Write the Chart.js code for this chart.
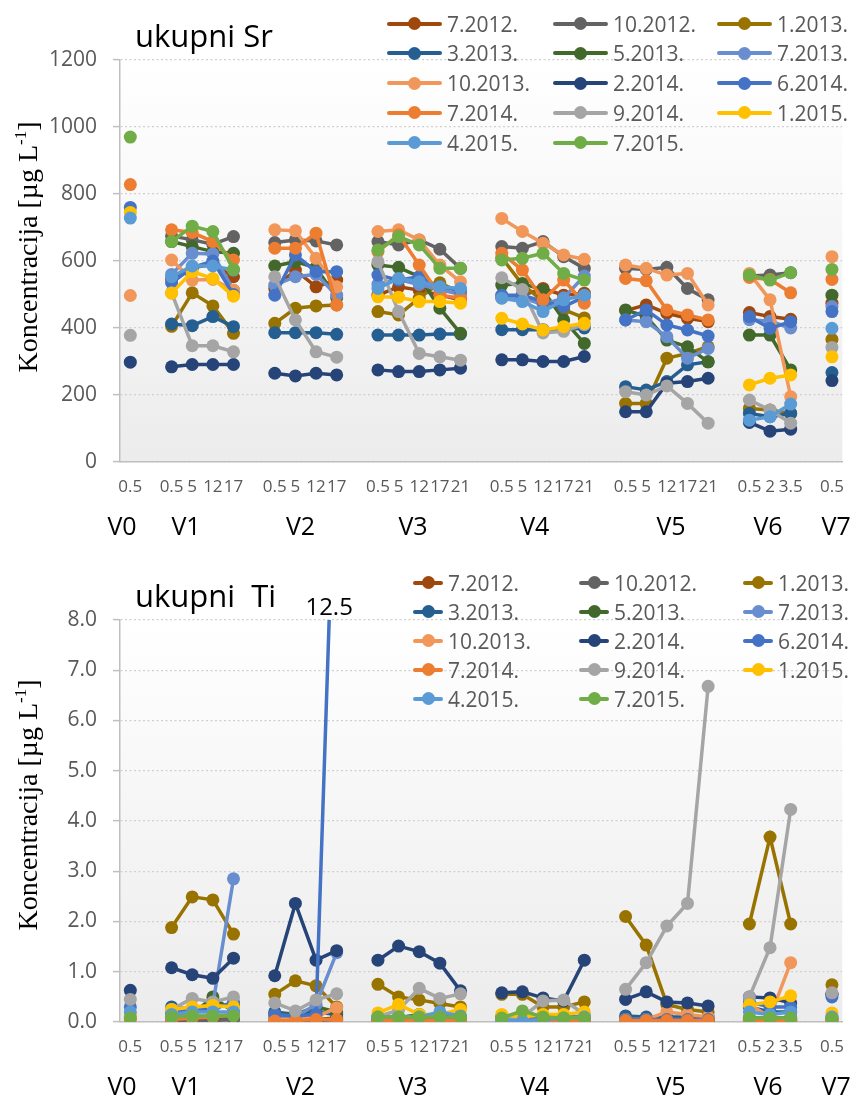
<!DOCTYPE html>
<html><head><meta charset="utf-8">
<script src="https://cdn.jsdelivr.net/npm/chart.js@4.4.1/dist/chart.umd.min.js"></script>
<style>
html,body{margin:0;padding:0;background:#fff;}
body{width:859px;height:1099px;overflow:hidden;position:relative;font-family:"Open Sans",sans-serif;}
.wrap{position:absolute;left:0;width:859px;}
#w1{top:0;height:540px}
#w2{top:540px;height:559px}
canvas{display:block;position:absolute;left:0;top:0}
.item{position:absolute;height:30px;display:flex;align-items:center;font-size:21px;color:#595959;white-space:nowrap;}
.sw{position:relative;height:4px;margin-right:5px;border-radius:2px}
.sw i{position:absolute;top:-4.5px;width:13px;height:13px;border-radius:50%}
</style>
</head><body>
<div class="wrap" id="w1"><canvas id="c1" width="859" height="540"></canvas></div>
<div class="wrap" id="w2"><canvas id="c2" width="859" height="559"></canvas></div>
<script>
// ---------- categories ----------
const GROUP_NAMES = ['V0','V1','V2','V3','V4','V5','V6','V7'];
const GROUP_TICKS = [
  ['0.5'],
  ['0.5','5','12','17'],
  ['0.5','5','12','17'],
  ['0.5','5','12','17','21'],
  ['0.5','5','12','17','21'],
  ['0.5','5','12','17','21'],
  ['0.5','2','3.5'],
  ['0.5']
];
const SERIES_NAMES = ['7.2012.','10.2012.','1.2013.','3.2013.','5.2013.','7.2013.','10.2013.','2.2014.','6.2014.','7.2014.','9.2014.','1.2015.','4.2015.','7.2015.'];
const SERIES_COLORS = ['#9E480E','#636363','#997300','#255E91','#43682B','#698ED0','#F1975A','#264478','#4472C4','#ED7D31','#A5A5A5','#FFC000','#5B9BD5','#70AD47'];
const SR_TICKS = [0,200,400,600,800,1000,1200];
const TI_TICKS = [0,1,2,3,4,5,6,7,8];

// ---------- ukupni Sr (µg/L) : V0 | V1 | V2 | V3 | V4 | V5 | V6 | V7 ----------
const SR_2012_07 = [null, 545,580,590,553, 518,573,523,543, 498,523,513,498,484, 490,498,518,498,504, 452,469,444,429,419, 446,434,426, 474];
const SR_2012_10 = [null, 675,663,650,673, 655,663,660,648, 658,648,663,635,578, 643,638,658,613,578, 578,575,581,518,484, 555,558,565, null];
const SR_2013_01 = [null, 405,505,466,384, 414,459,466,469, 449,439,489,535,505, 610,530,480,455,430, 175,175,310,324,344, 160,155,145, 366];
const SR_2013_03 = [null, 412,407,434,404, 386,386,386,381, 379,379,379,382,382, 395,395,395,395,400, 225,215,240,290,299, 145,135,145, 267];
const SR_2013_05 = [null, 658,643,628,623, 585,598,580,490, 588,581,553,459,384, 528,533,513,424,354, 454,434,364,344,299, 379,379,275, 498];
const SR_2013_07 = [null, 560,623,621,513, 528,553,560,498, 530,545,530,515,500, 495,490,470,490,555, 424,419,374,310,339, 425,420,400, 464];
const SR_2013_10 = [497, 603,543,545,513, 693,690,608,523, 688,693,663,588,538, 727,688,653,618,605, 588,578,558,563,469, 563,484,195, 613];
const SR_2014_02 = [298, 284,291,291,291, 265,257,265,260, 275,270,270,275,280, 305,305,300,300,315, 150,150,235,240,250, 118,92,98, 243];
const SR_2014_06 = [760, 535,580,600,500, 498,618,568,568, 558,543,553,523,513, 498,498,479,464,493, 424,454,409,394,376, 434,399,419, 449];
const SR_2014_07 = [828, 693,685,658,603, 638,638,683,469, 628,678,588,498,489, 623,573,484,543,474, 548,541,454,439,424, 551,545,505, 545];
const SR_2014_09 = [378, 505,347,347,329, 553,424,329,313, 598,449,324,314,304, 550,515,385,390,410, 210,200,227,175,116, 185,155,116, 342];
const SR_2015_01 = [745, 504,568,548,495, null,null,null,null, 493,492,479,479,474, 429,412,394,404,414, null,null,null,null,null, 230,250,260, 314];
const SR_2015_04 = [728, 553,585,585,573, null,null,null,null, 518,548,538,523,518, 489,479,449,484,498, null,null,null,null,null, 125,135,173, 399];
const SR_2015_07 = [970, 658,704,688,575, null,null,null,null, 633,673,648,578,578, 603,608,623,563,543, null,null,null,null,null, 558,543,565, 575];

// ---------- ukupni Ti (µg/L) ----------
const TI_2012_07 = [null, 0.05,0.05,0.05,0.08, 0.05,0.05,0.05,0.08, 0.05,0.05,0.05,0.05,0.05, 0.05,0.05,0.05,0.05,0.05, 0.05,0.05,0.05,0.05,0.05, 0.05,0.05,0.05, 0.05];
const TI_2012_10 = [null, 0.02,0.02,0.03,0.05, 0.03,0.03,0.03,0.05, 0.03,0.03,0.03,0.03,0.03, 0.03,0.03,0.03,0.03,0.03, 0.03,0.03,0.03,0.03,0.03, 0.03,0.03,0.03, null];
const TI_2013_01 = [null, 1.88,2.49,2.43,1.75, 0.55,0.82,0.72,0.30, 0.75,0.50,0.44,0.37,0.30, 0.55,0.55,0.30,0.30,0.40, 2.10,1.53,0.35,0.25,0.20, 1.95,3.68,1.95, 0.74];
const TI_2013_03 = [null, 0.30,0.25,0.30,0.35, 0.20,0.15,0.20,0.15, 0.10,0.10,0.12,0.15,0.10, 0.10,0.10,0.10,0.10,0.10, 0.12,0.10,0.10,0.10,0.10, 0.30,0.20,0.20, 0.55];
const TI_2013_05 = [null, 0.15,0.15,0.50,0.20, 0.15,0.15,0.30,0.20, 0.08,0.08,0.15,0.10,0.08, 0.08,0.08,0.08,0.08,0.08, 0.05,0.05,0.05,0.05,0.05, 0.08,0.08,0.08, 0.08];
const TI_2013_07 = [null, 0.20,0.25,0.35,2.85, 0.10,0.10,0.35,1.38, 0.05,0.05,0.05,0.05,0.05, 0.05,0.05,0.05,0.05,0.05, 0.05,0.05,0.05,0.05,0.05, 0.05,0.05,0.05, 0.05];
const TI_2013_10 = [0.10, 0.12,0.12,0.12,0.15, 0.05,0.05,0.10,0.28, 0.05,0.05,0.05,0.05,0.05, 0.05,0.05,0.05,0.05,0.05, 0.05,0.05,0.20,0.15,0.10, 0.35,0.10,1.18, 0.10];
const TI_2014_02 = [0.63, 1.08,0.94,0.87,1.27, 0.92,2.36,1.23,1.42, 1.23,1.51,1.40,1.17,0.62, 0.58,0.60,0.48,0.42,1.23, 0.45,0.60,0.40,0.38,0.32, 0.50,0.48,0.38, 0.55];
const TI_2014_06 = [0.30, 0.20,0.22,0.25,0.40, 0.15,0.12,0.15,12.5, 0.05,0.05,0.05,0.05,0.05, 0.05,0.05,0.05,0.05,0.05, 0.05,0.05,0.05,0.05,0.05, 0.40,0.30,0.30, 0.50];
const TI_2014_07 = [0.05, 0.05,0.08,0.10,0.15, 0.02,0.03,0.05,0.05, 0.03,0.03,0.03,0.03,0.03, 0.03,0.03,0.03,0.03,0.03, 0.03,0.03,0.03,0.03,0.03, 0.03,0.03,0.03, 0.03];
const TI_2014_09 = [0.45, 0.25,0.47,0.40,0.50, 0.38,0.22,0.44,0.56, 0.10,0.24,0.67,0.47,0.56, 0.05,0.10,0.42,0.44,0.15, 0.65,1.18,1.91,2.36,6.68, 0.50,1.48,4.23, 0.58];
const TI_2015_01 = [0.15, 0.25,0.30,0.33,0.30, null,null,null,null, 0.18,0.35,0.15,0.15,0.25, 0.15,0.10,0.15,0.15,0.20, null,null,null,null,null, 0.34,0.40,0.52, 0.18];
const TI_2015_04 = [0.20, 0.15,0.20,0.20,0.20, null,null,null,null, 0.10,0.10,0.10,0.20,0.12, 0.05,0.02,0.05,0.08,0.10, null,null,null,null,null, 0.20,0.15,0.20, 0.10];
const TI_2015_07 = [0.08, 0.10,0.12,0.12,0.12, null,null,null,null, 0.10,0.10,0.10,0.10,0.10, 0.08,0.22,0.10,0.08,0.08, null,null,null,null,null, 0.08,0.08,0.08, 0.07];

const SR_SERIES = [SR_2012_07,SR_2012_10,SR_2013_01,SR_2013_03,SR_2013_05,SR_2013_07,SR_2013_10,SR_2014_02,SR_2014_06,SR_2014_07,SR_2014_09,SR_2015_01,SR_2015_04,SR_2015_07];
const TI_SERIES = [TI_2012_07,TI_2012_10,TI_2013_01,TI_2013_03,TI_2013_05,TI_2013_07,TI_2013_10,TI_2014_02,TI_2014_06,TI_2014_07,TI_2014_09,TI_2015_01,TI_2015_04,TI_2015_07];

// ---------- build category axis with an empty slot between groups ----------
const labels = [];
GROUP_TICKS.forEach((g, gi) => {
  if (gi > 0) labels.push('');
  g.forEach(t => labels.push(t));
});
function expand(flat) {
  const out = [];
  let k = 0;
  GROUP_TICKS.forEach((g, gi) => {
    if (gi > 0) out.push(null);
    g.forEach(() => out.push(flat[k++]));
  });
  return out;
}

// ---------- layout/style (not data) ----------
const GROUP_LABEL_SLOT = [-0.4, 2.7, 8.25, 13.7, 19.6, 26.2, 30.9, 34.2];
const AXIS_GREY = '#595959';

const bgPlugin = {
  id: 'bg',
  beforeDraw(chart) {
    const {ctx, chartArea: a} = chart;
    const g = ctx.createLinearGradient(0, a.top, 0, a.bottom);
    g.addColorStop(0, '#ffffff');
    g.addColorStop(1, '#ececec');
    ctx.save();
    ctx.fillStyle = g;
    ctx.fillRect(a.left, a.top, a.right - a.left, a.bottom - a.top);
    ctx.restore();
  }
};

const textPlugin = {
  id: 'texts',
  afterDraw(chart, args, opts) {
    const {ctx, chartArea: a} = chart;
    const xs = chart.scales.x;
    const slot = (a.right - a.left) / labels.length;
    ctx.save();
    ctx.fillStyle = '#000';
    ctx.font = '31px "Open Sans"';
    ctx.textAlign = 'left';
    ctx.textBaseline = 'alphabetic';
    ctx.fillText(opts.title, 135, opts.titleY);
    ctx.font = '25px "Open Sans"';
    ctx.textAlign = 'center';
    GROUP_NAMES.forEach((n, i) => {
      ctx.fillText(n, a.left + (GROUP_LABEL_SLOT[i] + 0.5) * slot, a.bottom + 73);
    });
    ctx.translate(opts.yTitleX, opts.yTitleY);
    ctx.rotate(-Math.PI / 2);
    const big = '28px "Liberation Serif", "Times New Roman", serif';
    const small = '17px "Liberation Serif", "Times New Roman", serif';
    const p1 = 'Koncentracija [µg L', p2 = '-1', p3 = ']';
    ctx.font = big; const w1 = ctx.measureText(p1).width; const w3 = ctx.measureText(p3).width;
    ctx.font = small; const w2 = ctx.measureText(p2).width;
    let x = -(w1 + w2 + w3) / 2;
    ctx.textAlign = 'left';
    ctx.textBaseline = 'middle';
    ctx.font = big; ctx.fillText(p1, x, 0); x += w1;
    ctx.font = small; ctx.fillText(p2, x, -8); x += w2;
    ctx.font = big; ctx.fillText(p3, x, 0);
    ctx.restore();
    if (opts.offscale) {
      const ys = chart.scales.y;
      chart.data.datasets.forEach((ds) => {
        ds.data.forEach((v, i) => {
          if (v != null && v > ys.max && i > 0 && ds.data[i - 1] != null) {
            const x1 = xs.getPixelForValue(i - 1), y1 = ys.getPixelForValue(ds.data[i - 1]);
            const x2 = xs.getPixelForValue(i), y2 = ys.getPixelForValue(v);
            const t = (a.top - y1) / (y2 - y1);
            const cx = x1 + (x2 - x1) * t;
            ctx.save();
            ctx.fillStyle = '#000';
            ctx.font = '24px "Open Sans"';
            ctx.textAlign = 'center';
            ctx.textBaseline = 'alphabetic';
            ctx.fillText(String(v), cx, a.top - 5);
            ctx.restore();
          }
        });
      });
    }
  }
};

function makeChart(canvasId, seriesData, tickVals, fmt, padTop, opts) {
  const datasets = SERIES_NAMES.map((name, i) => ({
    label: name,
    data: expand(seriesData[i]),
    borderColor: SERIES_COLORS[i],
    backgroundColor: SERIES_COLORS[i],
    pointBackgroundColor: SERIES_COLORS[i],
    pointBorderWidth: 0,
    pointRadius: 6.5,
    pointHoverRadius: 6.5,
    borderWidth: 3.5,
    spanGaps: false,
    tension: 0,
    order: SERIES_NAMES.length - i
  }));
  return new Chart(document.getElementById(canvasId), {
    type: 'line',
    data: {labels, datasets},
    options: {
      responsive: false,
      animation: false,
      devicePixelRatio: 1,
      layout: {padding: {top: padTop, right: 7, left: 0, bottom: 0}},
      plugins: {legend: {display: false}, tooltip: {enabled: false}, texts: opts},
      scales: {
        x: {
          type: 'category',
          offset: true,
          grid: {display: false, drawTicks: false},
          border: {display: true, color: '#bfbfbf', width: 1.5},
          ticks: {autoSkip: false, maxRotation: 0, minRotation: 0, padding: 15,
                  color: AXIS_GREY, font: {family: 'Open Sans', size: 17}},
          afterFit(s) { s.height = opts.xh; }
        },
        y: {
          min: tickVals[0], max: tickVals[tickVals.length - 1],
          afterBuildTicks(s) { s.ticks = tickVals.map(v => ({value: v})); },
          grid: {color: '#d0d0d0', lineWidth: 1.2, drawTicks: true, tickLength: 7,
                 tickColor: '#bfbfbf', tickWidth: 1.5, tickBorderDash: []},
          border: {display: true, color: '#bfbfbf', width: 1.5, dash: [2, 2.5]},
          ticks: {padding: 16, color: AXIS_GREY, font: {family: 'Open Sans', size: 21},
                  callback: v => fmt(v)},
          afterFit(s) { s.width = 120; }
        }
      }
    },
    plugins: [bgPlugin, textPlugin]
  });
}

makeChart('c1', SR_SERIES, SR_TICKS, v => String(v), 60,
  {title: 'ukupni Sr', titleY: 47, yTitleX: 30, yTitleY: 247, xh: 78, offscale: false});
makeChart('c2', TI_SERIES, TI_TICKS, v => Number(v).toFixed(1), 80,
  {title: 'ukupni  Ti', titleY: 67, yTitleX: 30, yTitleY: 265, xh: 77, offscale: true});

// ---------- legends (HTML) ----------
function buildLegend(wrapId, cols, swW, firstRow, rowStep) {
  const w = document.getElementById(wrapId);
  SERIES_NAMES.forEach((n, i) => {
    const r = Math.floor(i / 3), c = i % 3;
    const d = document.createElement('div');
    d.className = 'item';
    d.style.left = cols[c] + 'px';
    d.style.top = (firstRow + r * rowStep - 15) + 'px';
    d.innerHTML = '<span class="sw" style="width:' + swW + 'px;background:' + SERIES_COLORS[i] +
      '"><i style="left:' + (swW / 2 - 6.5) + 'px;background:' + SERIES_COLORS[i] + '"></i></span>' + n;
    w.appendChild(d);
  });
}
buildLegend('w1', [387, 553, 717], 55, 23.5, 29.8);
buildLegend('w2', [413, 579, 743], 30, 42.5, 29.1);
</script>
</body></html>
